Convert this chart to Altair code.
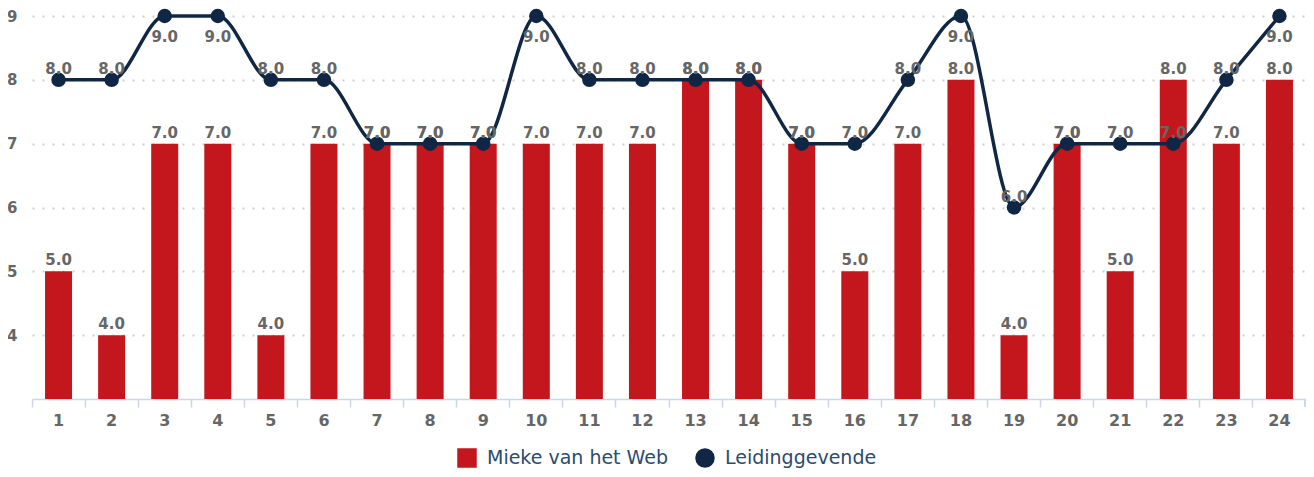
import altair as alt
import pandas as pd

categories = [str(i) for i in range(1, 25)]
mieke = [5, 4, 7, 7, 4, 7, 7, 7, 7, 7, 7, 7, 8, 8, 7, 5, 7, 8, 4, 7, 5, 8, 7, 8]
leiding = [8, 8, 9, 9, 8, 8, 7, 7, 7, 9, 8, 8, 8, 8, 7, 7, 8, 9, 6, 7, 7, 7, 8, 9]
series_names = ["Mieke van het Web", "Leidinggevende"]
y_ticks = [4, 5, 6, 7, 8, 9]

RED = "#c3161d"
NAVY = "#0f2744"
GREY = "#666666"
AXIS_BLUE = "#ccd6eb"
W, H = 1274, 383

bars_df = pd.DataFrame({"cat": categories, "value": mieke, "series": series_names[0]})
line_df = pd.DataFrame({"cat": categories, "value": leiding, "series": series_names[1]})
bars_df["label"] = [f"{v:.1f}" for v in mieke]
line_df["label"] = [f"{v:.1f}" for v in leiding]

x_enc = alt.X("cat:N", sort=categories,
              scale=alt.Scale(paddingInner=0, paddingOuter=0),
              axis=alt.Axis(title=None, labelAngle=0, bandPosition=0,
                            domainColor=AXIS_BLUE, domainWidth=1.5,
                            tickColor=AXIS_BLUE, tickWidth=1.5, tickSize=8,
                            labelPadding=5, labelFont="DejaVu Sans",
                            labelFontWeight="bold", labelFontSize=16,
                            labelColor=GREY, grid=False))
y_scale = alt.Scale(domain=[3, 9], nice=False, zero=False)
y_enc = alt.Y("value:Q", scale=y_scale,
              axis=alt.Axis(title=None, values=y_ticks, format="d", domain=False,
                            ticks=False, tickSize=0, labelPadding=15,
                            labelFont="DejaVu Sans", labelAlign="right",
                            labelFontWeight="bold", labelFontSize=15,
                            labelColor=GREY, grid=True, gridColor="#cfcfcf",
                            gridDash=[2, 8], gridWidth=2))

legend_common = dict(title=None, orient="none", direction="horizontal",
                     legendX=425, legendY=432,
                     labelFont="DejaVu Sans", labelFontSize=19, labelLimit=400,
                     labelColor="#2b4b6f", symbolSize=380,
                     labelOffset=10, columnPadding=26,
                     symbolStrokeWidth=0, padding=0)

color_enc = alt.Color("series:N",
                      scale=alt.Scale(domain=series_names, range=[RED, NAVY]),
                      legend=alt.Legend(**legend_common))
shape_enc = alt.Shape("series:N",
                      scale=alt.Scale(domain=series_names, range=["square", "circle"]),
                      legend=alt.Legend(**legend_common))

bars = alt.Chart(bars_df).mark_bar(width=27).encode(
    x=x_enc, y=y_enc, y2=alt.datum(3), color=color_enc)

end_tick = alt.Chart(bars_df).mark_rule(color=AXIS_BLUE, strokeWidth=1.5).encode(
    x=alt.value(W - 0.75), y=alt.value(H), y2=alt.value(H + 8))

text_style = dict(baseline="alphabetic", font="DejaVu Sans", fontWeight="bold",
                  fontSize=15, color=GREY)

bar_labels = alt.Chart(bars_df).mark_text(dy=-6, **text_style).encode(
    x=alt.X("cat:N", sort=categories), y=alt.Y("value:Q"), text="label:N")

line = alt.Chart(line_df).mark_line(interpolate="monotone", strokeWidth=3.5,
                                    color=NAVY).encode(
    x=alt.X("cat:N", sort=categories), y=alt.Y("value:Q"))

points = alt.Chart(line_df).mark_point(filled=True, size=210, opacity=1).encode(
    x=alt.X("cat:N", sort=categories), y=alt.Y("value:Q"),
    color=color_enc, shape=shape_enc)

line_labels_above = alt.Chart(line_df).transform_filter("datum.value < 9").mark_text(
    dy=-6, **text_style).encode(
    x=alt.X("cat:N", sort=categories), y=alt.Y("value:Q"), text="label:N")

line_labels_below = alt.Chart(line_df).transform_filter("datum.value >= 9").mark_text(
    dy=26, **text_style).encode(
    x=alt.X("cat:N", sort=categories), y=alt.Y("value:Q"), text="label:N")

chart = alt.layer(bars, end_tick, line, points, bar_labels, line_labels_above,
                  line_labels_below).properties(
    width=W, height=H,
    autosize=alt.AutoSizeParams(type="none"),
    padding={"left": 24, "top": 8, "right": 0, "bottom": 69},
).configure_view(stroke=None).configure_legend(symbolStrokeWidth=0)

chart.save("out.html", embed_options={"renderer": "svg", "actions": False})
